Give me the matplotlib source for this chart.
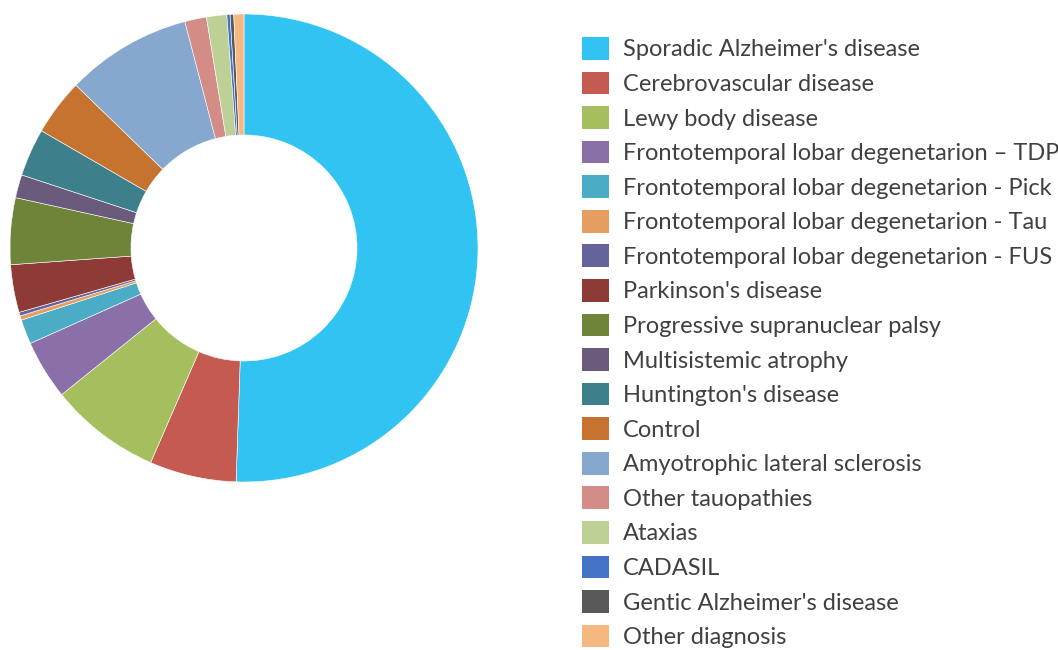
import matplotlib.pyplot as plt

# diagnosis groups, clockwise from the top
labels = [
    "Sporadic Alzheimer's disease",
    "Cerebrovascular disease",
    "Lewy body disease",
    "Frontotemporal lobar degenetarion \u2013 TDP",
    "Frontotemporal lobar degenetarion - Pick",
    "Frontotemporal lobar degenetarion - Tau",
    "Frontotemporal lobar degenetarion - FUS",
    "Parkinson's disease",
    "Progressive supranuclear palsy",
    "Multisistemic atrophy",
    "Huntington's disease",
    "Control",
    "Amyotrophic lateral sclerosis",
    "Other tauopathies",
    "Ataxias",
    "CADASIL",
    "Gentic Alzheimer's disease",
    "Other diagnosis",
]
# share of cases (%)
values = [50.6, 6.0, 7.7, 4.1, 1.7, 0.3, 0.25, 3.3, 4.6, 1.6,
          3.3, 3.9, 8.7, 1.5, 1.4, 0.22, 0.25, 0.7]
colors = ["#31C4F3", "#C55A50", "#A5BE5E", "#8A6FA8", "#4BACC6", "#E59E5F",
          "#64639C", "#8E3B38", "#6E8439", "#6A5A7C", "#3E7F8C", "#C5732E",
          "#86A8CF", "#D48C87", "#BDD197", "#4472C4", "#595959", "#F5B880"]

W, H = 1058, 650
fig = plt.figure(figsize=(W / 100, H / 100), dpi=100)
ax = fig.add_axes([10 / W, 1 - 482 / H, 468 / W, 468 / H])

wedges, _ = ax.pie(values, colors=colors, startangle=90, counterclock=False,
                   radius=1, wedgeprops=dict(width=0.517, edgecolor="white",
                                             linewidth=0.4))
ax.set_xlim(-1, 1)
ax.set_ylim(-1, 1)
ax.set_aspect("equal")
ax.axis("off")

fs = 17
leg = fig.legend(wedges, labels, loc="upper left",
                 bbox_to_anchor=(582 / W, 1 - 37 / H),
                 frameon=False, borderpad=0, borderaxespad=0,
                 handlelength=1.14, handleheight=1.1, handletextpad=0.6,
                 labelspacing=0.475,
                 prop=dict(family="Lato", size=fs))
for t in leg.get_texts():
    t.set_color("#404040")
for h in leg.legend_handles:
    h.set_edgecolor("none")

fig.savefig("out.png", dpi=100)
